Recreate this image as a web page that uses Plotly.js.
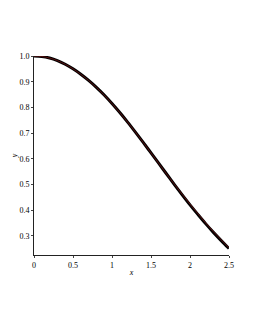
<!DOCTYPE html>
<html><head><meta charset="utf-8">
<script src="https://cdn.plot.ly/plotly-3.0.1.min.js"></script>
<style>html,body{margin:0;padding:0;background:#fff}#c{width:253px;height:327px}</style>
</head><body><div id="c"></div>
<script>
const xVals = [0,0.1,0.2,0.3,0.4,0.5,0.6,0.7,0.8,0.9,1.0,1.1,1.2,1.3,1.4,1.5,1.6,1.7,1.8,1.9,2.0,2.1,2.2,2.3,2.4,2.5];
const yBlack = [1.000,0.998,0.992,0.982,0.968,0.950,0.929,0.905,0.878,0.848,0.815,0.780,0.743,0.704,0.664,0.623,0.582,0.541,0.500,0.460,0.421,0.384,0.348,0.314,0.282,0.251];
const yRed = [1.000,0.998,0.992,0.982,0.968,0.950,0.929,0.905,0.878,0.848,0.815,0.780,0.743,0.704,0.664,0.623,0.582,0.541,0.501,0.462,0.424,0.387,0.351,0.317,0.285,0.254];
const yTicks = [0.3,0.4,0.5,0.6,0.7,0.8,0.9,1.0];
const yTickText = ['0.3','0.4','0.5','0.6','0.7','0.8','0.9','1.0'];
const xTicks = [0,0.5,1,1.5,2,2.5];
const xTickText = ['0','0.5','1','1.5','2','2.5'];

const font = {family:'Liberation Serif, Times New Roman, serif', size:8, color:'#000'};
Plotly.newPlot('c', [
  {x:xVals, y:yBlack, mode:'lines', line:{color:'#000', width:3, shape:'spline'}, hoverinfo:'skip'},
  {x:xVals, y:yRed, mode:'lines', line:{color:'#5a1010', width:1, shape:'spline'}, hoverinfo:'skip'}
], {
  width:253, height:327,
  margin:{l:34, r:24, t:56, b:72},
  paper_bgcolor:'#fff', plot_bgcolor:'#fff',
  showlegend:false,
  font:font,
  xaxis:{range:[0,2.5], tickvals:xTicks, ticktext:xTickText, showgrid:false, zeroline:false,
    showline:true, linecolor:'#222', linewidth:1, ticks:'outside', ticklen:2, tickcolor:'#444',
    tickfont:font, title:{text:'<i>x</i>', font:font, standoff:0}},
  yaxis:{range:[0.226,1.0], tickvals:yTicks, ticktext:yTickText, showgrid:false, zeroline:false,
    showline:true, linecolor:'#222', linewidth:1, ticks:'outside', ticklen:2, tickcolor:'#444',
    tickfont:font, title:{text:'<i>y</i>', font:font, standoff:0}}
}, {staticPlot:true, displayModeBar:false});
</script></body></html>
